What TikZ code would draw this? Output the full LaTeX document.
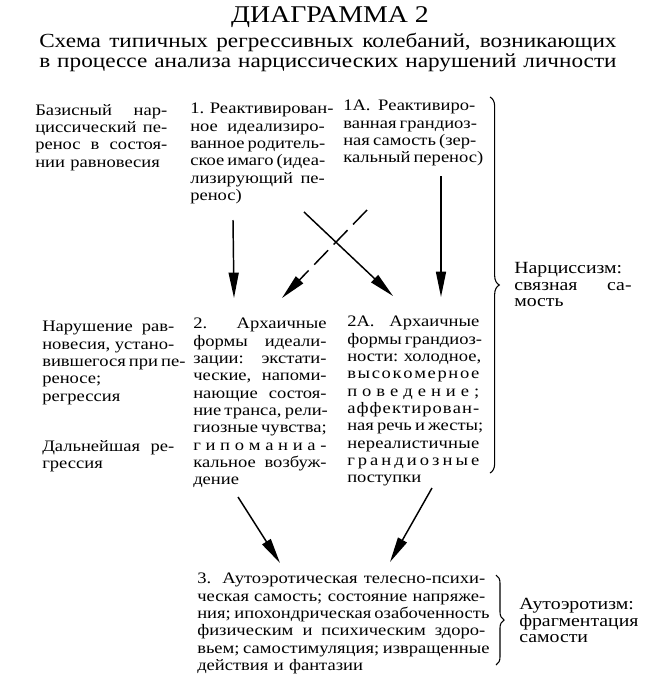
\documentclass[tikz,border=0pt]{standalone}
\usepackage{fontspec}
\setmainfont{Liberation Serif}[FakeStretch=1.16]
\usetikzlibrary{arrows.meta,decorations.pathreplacing}
\setlength{\parindent}{0pt}
\newcommand\jl[1]{\leavevmode\hbox to\hsize{\spaceskip=0pt\xspaceskip=0pt #1}}
\makeatletter
\newcommand\spaced[1]{\leavevmode\hbox to\hsize{\@tfor\spc@ch:=#1\do{\spc@ch\hfil}\unskip}}
\makeatother
\tikzset{
  txt/.style={font=\fontsize{12}{13}\selectfont, inner sep=0pt, anchor=north west, align=left},
  lbl/.style={txt, font=\fontsize{12.8}{12.5}\selectfont},
  arr/.style={-{Triangle[length=19pt,width=7.5pt]}, line width=1.1pt},
  brc/.style={decorate, decoration={brace, amplitude=7pt}, line width=0.8pt},
}

\begin{document}
\begin{tikzpicture}[x=0.75pt,y=-0.75pt]
  \useasboundingbox (0,0) rectangle (659,686);

  % heading
  \node[font=\fontsize{18}{18}\selectfont] (title) at (330,17) {ДИАГРАММА 2};
  \node[txt, font=\fontsize{15}{15}\selectfont, text width=433pt] (sub) at (39,33)
    {\jl{Схема типичных регрессивных колебаний, возникающих}\\
     \jl{в процессе анализа нарциссических нарушений личности}};

  % row 1
  \node[txt, text width=99pt] (basis) at (35,104)
    {\jl{Базисный нар-}\\ \jl{циссический пе-}\\ \jl{ренос в состоя-}\\ нии равновесия};
  \node[txt, text width=101pt] (ideal) at (190,103)
    {\jl{1. Реактивирован-}\\ \jl{ное идеализиро-}\\ \jl{ванное родитель-}\\
     \jl{ское имаго (идеа-}\\ \jl{лизирующий пе-}\\ ренос)};
  \node[txt, text width=99pt] (grand) at (343,100)
    {\jl{1А. Реактивиро-}\\ \jl{ванная грандиоз-}\\ \jl{ная самость (зер-}\\ \jl{кальный перенос)}};

  % row 2
  \node[txt, text width=99pt] (disrupt) at (42,321)
    {\jl{Нарушение рав-}\\ \jl{новесия, устано-}\\ \jl{вившегося при пе-}\\ реносе;\\ регрессия};
  \node[txt, text width=99pt] (further) at (42,440)
    {\jl{Дальнейшая ре-}\\ грессия};
  \node[txt, text width=100pt] (archid) at (193,318)
    {\jl{2. Архаичные}\\ \jl{формы идеали-}\\ \jl{зации: экстати-}\\ \jl{ческие, напоми-}\\
     \jl{нающие состоя-}\\ \jl{ние транса, рели-}\\ \jl{гиозные чувства;}\\
     \spaced{гипоманиа-}\\ \jl{кальное возбуж-}\\ дение};
  \node[txt, text width=99pt] (archgr) at (347,316)
    {\jl{2А. Архаичные}\\ \jl{формы грандиоз-}\\ \jl{ности: холодное,}\\ \spaced{высокомерное}\\
     \spaced{поведение;}\\ \spaced{аффектирован-}\\ \jl{ная речь и жесты;}\\
     \spaced{нереалистичные}\\ \spaced{грандиозные}\\ поступки};
  \node[lbl, text width=88pt] (narc) at (514,262)
    {Нарциссизм:\\ \jl{связная са-}\\ мость};

  % row 3
  \node[txt, text width=216pt] (auto) at (197,573)
    {\jl{3. Аутоэротическая телесно-психи-}\\ \jl{ческая самость; состояние напряже-}\\
     \jl{ния; ипохондрическая озабоченность}\\ \jl{физическим и психическим здоро-}\\
     \jl{вьем; самостимуляция; извращенные}\\ действия и фантазии};
  \node[lbl, text width=84pt] (frag) at (519,598)
    {Аутоэротизм:\\ фрагментация\\ самости};

  % arrow ends
  \coordinate (ideal-s) at (233,220);  \coordinate (ideal-e) at (234,298);
  \coordinate (cross-s) at (304,212);  \coordinate (cross-e) at (393,296);
  \coordinate (back-s)  at (367,210);  \coordinate (back-e)  at (282,298);
  \coordinate (grand-s) at (441,176);  \coordinate (grand-e) at (441,297);
  \coordinate (down-l-s) at (238,497); \coordinate (down-l-e) at (280,563);
  \coordinate (down-r-s) at (432,488); \coordinate (down-r-e) at (390,562);

  \draw[arr] (ideal-s) -- (ideal-e);
  \draw[arr] (cross-s) -- (cross-e);
  \draw[arr, dash pattern=on 15pt off 6pt] (back-s) -- (back-e);
  \draw[arr] (grand-s) -- (grand-e);
  \draw[arr] (down-l-s) -- (down-l-e);
  \draw[arr] (down-r-s) -- (down-r-e);

  % braces
  \coordinate (narc-top) at (490,97);  \coordinate (narc-bot) at (490,473);
  \coordinate (auto-top) at (496,575); \coordinate (auto-bot) at (496,665);
  \draw[brc] (narc-top) -- (narc-bot);
  \draw[brc, decoration={amplitude=6pt}] (auto-top) -- (auto-bot);
\end{tikzpicture}
\end{document}
